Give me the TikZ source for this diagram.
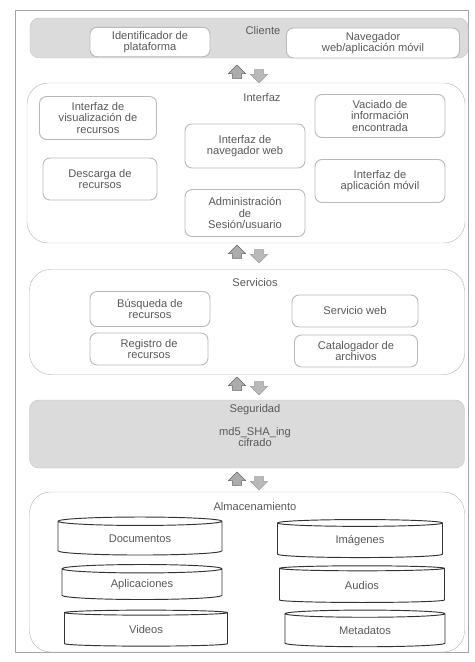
\documentclass[tikz,border=0pt]{standalone}
\usepackage{fontspec}
\setmainfont{Liberation Sans}
\usetikzlibrary{shapes.geometric, shapes.arrows, positioning}

\begin{document}
\begin{tikzpicture}[
      x=0.03cm, y=-0.03cm,
      every node/.style={font=\fontsize{9.5}{9.6}\selectfont, text=black!65, align=center},
      band/.style={draw=gray!45, fill=gray!28, rounded corners=8pt},
      layer/.style={draw=gray!55, rounded corners=18pt},
      box/.style={draw=gray!55, fill=white, rounded corners=6pt, thick},
      store/.style={cylinder, draw=black!80, thick, shape border rotate=90, aspect=0.12,
        fill=white},
      up/.style={single arrow, fill=gray!65, draw=black!60, shape border rotate=90,
        minimum height=0.4cm, inner xsep=0.13cm, inner ysep=0.06cm, single arrow head extend=0.12cm},
      down/.style={single arrow, fill=gray!55, draw=gray!75, shape border rotate=270,
        minimum height=0.4cm, inner xsep=0.13cm, inner ysep=0.06cm, single arrow head extend=0.12cm}
    ]
  \useasboundingbox (0,0) rectangle (475,662);
  \draw[gray!70, thick] (15,10) rectangle (468,652);

  \node[band, minimum width=13.14cm, minimum height=1.2cm] (cli) at (249,38) {};
  \node (clit) at (263,31) {Cliente};
  \node[box, minimum width=3.6cm, minimum height=0.81cm] (ident) at (150,42) {Identificador de\\plataforma};
  \node[box, minimum width=5.19cm, minimum height=0.9cm] (nav) at (373,43) {Navegador\\web/aplicación móvil};

  \node[up] (u1) at (237,74) {};
  \node[down] (d1) at (259,74) {};

  \node[layer, minimum width=13.14cm, minimum height=4.8cm] (int) at (246,163) {};
  \node (intt) at (262,98) {Interfaz};
  \node[box, minimum width=3.51cm, minimum height=1.29cm] (vis) at (98,118) {Interfaz de\\visualización de\\recursos};
  \node[box, minimum width=3.9cm, minimum height=1.29cm] (vac) at (380,116) {Vaciado de\\información\\encontrada};
  \node[box, minimum width=3.6cm, minimum height=1.32cm] (inav) at (245,146) {Interfaz de\\navegador web};
  \node[box, minimum width=3.42cm, minimum height=1.26cm] (desc) at (100,179) {Descarga de\\recursos};
  \node[box, minimum width=3.9cm, minimum height=1.29cm] (iapp) at (380,181) {Interfaz de\\aplicación móvil};
  \node[box, minimum width=3.6cm, minimum height=1.41cm] (adm) at (245,213) {Administración\\de\\Sesión/usuario};

  \node[up] (u2) at (237,254) {};
  \node[down] (d2) at (259,254) {};

  \node[layer, minimum width=13.05cm, minimum height=3.15cm] (serv) at (247,322) {};
  \node (servt) at (255,283) {Servicios};
  \node[box, minimum width=3.6cm, minimum height=1.05cm] (bus) at (150,309) {Búsqueda de\\recursos};
  \node[box, minimum width=3.78cm, minimum height=0.96cm] (sweb) at (355,311) {Servicio web};
  \node[box, minimum width=3.54cm, minimum height=0.96cm] (reg) at (149,349) {Registro de\\recursos};
  \node[box, minimum width=3.69cm, minimum height=0.96cm] (cat) at (356,351) {Catalogador de\\archivos};

  \node[up] (u3) at (237,386) {};
  \node[down] (d3) at (259,386) {};

  \node[band, minimum width=13.05cm, minimum height=2.04cm] (seg) at (247,434) {};
  \node (segt) at (255,410) {Seguridad};
  \node (segc) at (255,437) {md5\_SHA\_ing\\cifrado};

  \node[up] (u4) at (237,481) {};
  \node[down] (d4) at (259,481) {};

  \node[layer, minimum width=13.05cm, minimum height=4.8cm] (alm) at (247,572) {};
  \node (almt) at (255,507) {Almacenamiento};
  \node[store, minimum width=4.92cm, minimum height=1.14cm] (doc) at (140,539) {Documentos};
  \node[store, minimum width=4.95cm, minimum height=1.14cm] (img) at (360,541) {Imágenes};
  \node[store, minimum width=4.8cm, minimum height=1.05cm] (apl) at (142,585) {Aplicaciones};
  \node[store, minimum width=4.95cm, minimum height=1.1cm] (aud) at (362,586) {Audios};
  \node[store, minimum width=4.89cm, minimum height=1.08cm] (vid) at (146,630) {Videos};
  \node[store, minimum width=4.8cm, minimum height=1.1cm] (met) at (365,631) {Metadatos};
\end{tikzpicture}
\end{document}
